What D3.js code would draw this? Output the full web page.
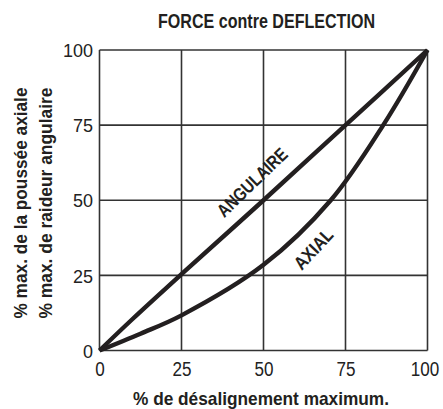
<!DOCTYPE html>
<html><head><meta charset="utf-8">
<script src="https://cdn.jsdelivr.net/npm/d3@7"></script>
<style>body{margin:0;background:#fff}svg{display:block}</style>
</head><body>
<script>
const title = "FORCE contre DEFLECTION";
const xTitle = "% de désalignement maximum.";
const yTitles = ["% max. de la poussée axiale", "% max. de raideur angulaire"];
const xTicks = [0, 25, 50, 75, 100];
const yTicks = [0, 25, 50, 75, 100];
const angulaireX = [0, 10, 25, 50, 75, 100];
const angulaireY = [0, 10.4, 25.4, 50, 75, 100];
const axialX = [0, 12.5, 25, 50, 70.5, 86.5, 100];
const axialY = [0, 5.6, 11.7, 28.5, 50, 75, 100];

const W = 443, H = 409;
const m = {l: 99.5, r: 15.5, t: 50, b: 58.5};
const font = "'Liberation Sans',Arial,Helvetica,sans-serif";
const ink = "#231f20";
const svg = d3.select("body").append("svg").attr("width", W).attr("height", H);
const x = d3.scaleLinear().domain([0, 100]).range([m.l, W - m.r]);
const y = d3.scaleLinear().domain([0, 100]).range([H - m.b, m.t]);

const g = svg.append("g");
g.selectAll("line.vx").data(xTicks).join("line").attr("class", "vx")
  .attr("x1", d => x(d)).attr("x2", d => x(d)).attr("y1", y(0)).attr("y2", y(100))
  .attr("stroke", "#333").attr("stroke-width", 1.6);
g.selectAll("line.hy").data(yTicks).join("line").attr("class", "hy")
  .attr("y1", d => y(d)).attr("y2", d => y(d)).attr("x1", x(0)).attr("x2", x(100))
  .attr("stroke", "#333").attr("stroke-width", 1.6);

const xa = svg.append("g").attr("transform", `translate(0,${y(0)})`)
  .call(d3.axisBottom(x).tickValues(xTicks).tickSize(0).tickPadding(11));
const ya = svg.append("g").attr("transform", `translate(${x(0)},0)`)
  .call(d3.axisLeft(y).tickValues(yTicks).tickSize(0).tickPadding(6.5));
[xa, ya].forEach(a => {
  a.select(".domain").remove();
  a.selectAll("text").attr("font-family", font).attr("fill", "#222");
});
ya.selectAll("text").attr("font-size", 18.5).attr("dy", "0.36em")
  .attr("textLength", d => String(d).length * 10).attr("lengthAdjust", "spacingAndGlyphs");
xa.selectAll("text").attr("font-size", 20).attr("dy", "0.71em")
  .attr("textLength", d => String(d).length * 9.5).attr("lengthAdjust", "spacingAndGlyphs");
xa.selectAll("text").filter(d => d === 100).attr("dx", -3);

const line = d3.line().x(d => x(d[0])).y(d => y(d[1])).curve(d3.curveCatmullRom.alpha(0.5));
[[angulaireX, angulaireY], [axialX, axialY]].forEach(([xs, ys]) => {
  svg.append("path").datum(xs.map((v, i) => [v, ys[i]]))
    .attr("d", line).attr("fill", "none").attr("stroke", ink).attr("stroke-width", 4.4)
    .attr("stroke-linejoin", "round");
});

function label(txt, cx, cy, ang, len, fs) {
  svg.append("text").attr("transform", `translate(${x(cx)},${y(cy)}) rotate(${ang})`)
    .attr("text-anchor", "middle").attr("dominant-baseline", "central")
    .attr("font-family", font).attr("font-weight", "bold").attr("font-size", fs)
    .attr("textLength", len).attr("lengthAdjust", "spacingAndGlyphs")
    .attr("fill", ink).text(txt);
}
label("ANGULAIRE", 46.5, 56, -44, 90, 18.5);
label("AXIAL", 65.2, 33.8, -47, 48, 18.5);

function bold(txt, tx, ty, rot, len, fs) {
  svg.append("text").attr("transform", `translate(${tx},${ty}) rotate(${rot})`)
    .attr("text-anchor", "middle").attr("font-family", font).attr("font-weight", "bold")
    .attr("font-size", fs).attr("textLength", len).attr("lengthAdjust", "spacingAndGlyphs")
    .attr("fill", ink).text(txt);
}
bold(title, 266.5, 28, 0, 217, 20);
bold(xTitle, 261, 405, 0, 256, 19);
bold(yTitles[0], 27, 203, -90, 231, 19);
bold(yTitles[1], 51.5, 203, -90, 231, 19);
</script>
</body></html>
